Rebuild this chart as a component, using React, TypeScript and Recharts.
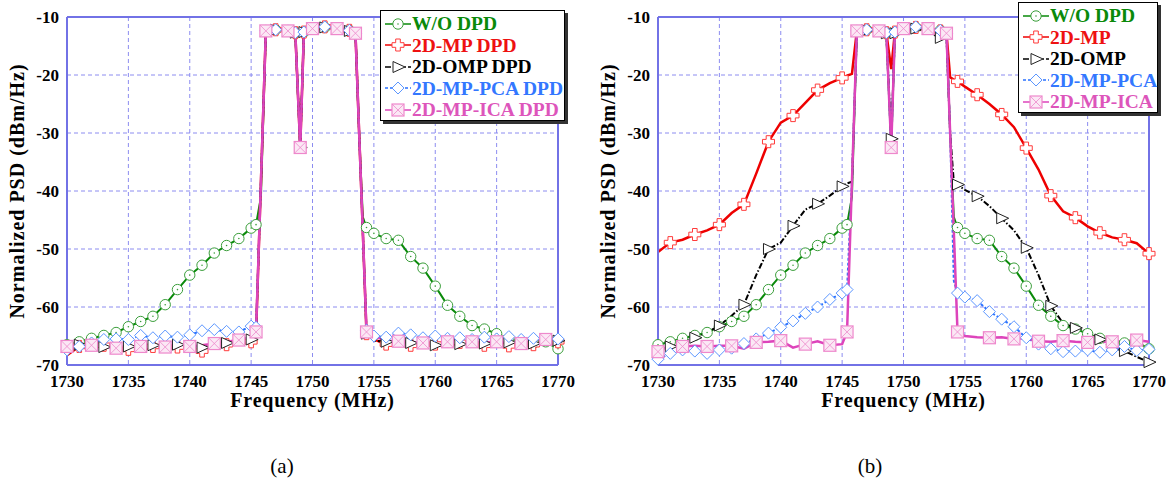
import { LineChart, Line, XAxis, YAxis, CartesianGrid, ReferenceLine } from 'recharts'

const FONT = 'Liberation Serif, Tinos, Nimbus Roman, DejaVu Serif, serif'

// frequency grid (MHz): 1 MHz skirts, finer steps on the channel edges and the notch
const FREQ = [
  1730, 1731, 1732, 1733, 1734, 1735, 1736, 1737, 1738, 1739, 1740, 1741, 1742, 1743, 1744, 1745,
  1745.4, 1745.8,
  1746.2, 1747, 1748, 1748.6, 1749, 1749.3, 1750, 1751, 1752, 1753, 1753.5,
  1753.8, 1754.1, 1754.4,
  1755, 1756, 1757, 1758, 1759, 1760, 1761, 1762, 1763, 1764, 1765, 1766, 1767, 1768, 1769, 1770,
]

const X_TICKS = [1730, 1735, 1740, 1745, 1750, 1755, 1760, 1765, 1770]
const Y_TICKS = [-70, -60, -50, -40, -30, -20, -10]

// PSD (dBm/Hz) without DPD, same measurement in both plots
const WO_DPD = [
  -66.5, -66.0, -65.4, -64.9, -64.4, -63.4, -62.5, -61.6, -59.6, -57.0, -54.5, -52.8, -50.7, -49.4, -48.2, -46.4,
  -45.8, -41.0,
  -12.4, -12.2, -12.4, -12.8, -32.5, -12.6, -12.0, -11.8, -12.0, -12.3, -12.8,
  -30.0, -44.5, -46.3,
  -47.3, -48.2, -48.5, -51.3, -53.3, -56.4, -59.7, -61.6, -63.2, -63.8, -64.6, -65.4, -66.0, -66.2, -66.0, -67.2,
]

// (a) with DPD
const MP_A = [
  -68.3, -66.8, -67.1, -66.6, -67.0, -67.3, -67.6, -66.8, -67.2, -66.9, -67.3, -67.6, -66.6, -66.5, -66.4, -66.0,
  -64.8, -38.4,
  -12.4, -12.2, -12.4, -12.7, -32.5, -12.6, -12.0, -11.7, -12.0, -12.3, -12.8,
  -30.0, -47.0, -64.6,
  -65.6, -66.4, -66.2, -66.6, -66.0, -66.4, -66.8, -66.1, -66.4, -66.6, -66.3, -66.7, -66.2, -66.5, -66.1, -66.0,
]
const OMP_A = [
  -67.5, -66.5, -66.8, -66.9, -66.5, -66.8, -67.2, -66.6, -66.9, -66.5, -67.0, -67.0, -66.3, -66.2, -66.5, -65.6,
  -64.6, -38.4,
  -12.5, -12.2, -12.4, -12.7, -32.5, -12.6, -12.1, -11.8, -12.1, -12.4, -12.8,
  -30.0, -47.0, -64.6,
  -65.8, -66.0, -66.4, -66.2, -66.3, -66.6, -66.2, -66.4, -66.0, -66.3, -66.5, -66.1, -66.0, -66.3, -66.0, -65.8,
]
const PCA_A = [
  -67.4, -66.8, -66.2, -65.6, -65.5, -65.6, -64.9, -65.3, -65.0, -65.2, -64.8, -64.1, -63.9, -64.2, -64.3, -63.3,
  -63.5, -38.4,
  -12.4, -12.2, -12.4, -12.7, -32.5, -12.6, -12.0, -11.7, -12.0, -12.3, -12.8,
  -30.0, -47.0, -64.0,
  -65.0, -65.2, -64.5, -64.8, -65.3, -65.0, -65.4, -65.3, -65.6, -65.2, -65.5, -65.1, -65.6, -65.4, -65.7, -65.5,
]
const ICA_A = [
  -66.8, -66.5, -66.6, -66.8, -67.1, -67.0, -66.8, -67.0, -66.9, -66.9, -66.8, -66.6, -66.3, -66.0, -65.7, -65.2,
  -64.3, -38.4,
  -12.4, -12.2, -12.4, -12.7, -32.5, -12.6, -12.0, -11.7, -12.0, -12.3, -12.8,
  -30.0, -47.0, -64.3,
  -65.0, -65.8, -65.9, -66.0, -66.2, -66.3, -66.0, -65.8, -66.0, -66.1, -66.0, -66.2, -66.3, -66.0, -65.6, -65.8,
]

// (b) with DPD
const MP_B = [
  -50.5, -48.9, -48.4, -47.5, -46.8, -45.8, -43.8, -42.3, -37.0, -31.5, -28.2, -27.0, -24.8, -22.6, -21.4, -20.5,
  -20.1, -19.8,
  -12.4, -12.2, -12.4, -12.7, -19.0, -12.6, -12.0, -11.8, -12.1, -12.4, -12.8,
  -20.4, -20.8, -21.1,
  -22.0, -23.4, -25.0, -26.8, -29.0, -32.6, -36.3, -40.8, -43.5, -44.6, -46.1, -47.2, -48.0, -48.4, -49.0, -50.8,
]
const OMP_B = [
  -67.5, -66.8, -66.0, -65.3, -64.4, -63.2, -61.5, -59.6, -54.5, -50.0, -48.9, -46.0, -43.2, -42.2, -40.8, -39.2,
  -38.7, -38.4,
  -12.5, -12.3, -12.5, -12.8, -31.0, -12.8, -12.2, -12.0, -12.6, -13.6, -13.3,
  -30.0, -38.5, -38.9,
  -39.8, -40.9, -42.6, -44.7, -46.8, -49.8, -54.5, -59.8, -62.8, -63.6, -64.2, -65.6, -67.0, -67.6, -68.6, -69.5,
]
const PCA_B = [
  -69.0, -68.0, -67.4, -67.6, -68.0, -67.4, -67.1, -66.3, -65.5, -64.5, -63.5, -62.4, -61.1, -60.0, -58.7, -57.6,
  -57.0, -38.4,
  -12.4, -12.2, -12.4, -12.7, -32.5, -12.6, -12.0, -11.7, -12.0, -12.3, -12.8,
  -30.0, -55.5, -57.6,
  -58.3, -58.9, -60.8, -62.1, -63.4, -65.3, -66.4, -67.2, -67.7, -67.6, -67.4, -67.8, -67.4, -66.8, -67.5, -67.3,
]
const ICA_B = [
  -67.7, -66.6, -66.8, -66.7, -66.8, -66.7, -66.7, -67.2, -66.1, -66.0, -65.8, -67.0, -66.4, -65.9, -66.6, -66.4,
  -64.3, -38.4,
  -12.4, -12.2, -12.4, -12.7, -32.5, -12.6, -12.0, -11.7, -12.0, -12.3, -12.8,
  -30.0, -47.0, -64.3,
  -65.0, -65.2, -65.3, -65.2, -65.5, -65.4, -65.9, -66.0, -65.8, -66.0, -66.1, -66.0, -66.0, -65.9, -65.7, -66.0,
]

const NAMES_A = ['W/O DPD', '2D-MP DPD', '2D-OMP DPD', '2D-MP-PCA DPD', '2D-MP-ICA DPD']
const NAMES_B = ['W/O DPD', '2D-MP', '2D-OMP', '2D-MP-PCA', '2D-MP-ICA']

const rowsA = FREQ.map((f, i) => ({ f, wo: WO_DPD[i], mp: MP_A[i], omp: OMP_A[i], pca: PCA_A[i], ica: ICA_A[i] }))
const rowsB = FREQ.map((f, i) => ({ f, wo: WO_DPD[i], mp: MP_B[i], omp: OMP_B[i], pca: PCA_B[i], ica: ICA_B[i] }))

type Shape = 'circle' | 'cross' | 'triangle' | 'diamond' | 'square'

interface SeriesStyle {
  key: string
  color: string
  text: string
  mark: string
  shape: Shape
  width: number
  dash?: string
  step: number
  offset: number
  extra?: number[]
  skip?: number[]
}

const STYLES: SeriesStyle[] = [
  { key: 'wo', color: '#0a8a0a', text: '#0a8a0a', mark: '#3a9e3a', shape: 'circle', width: 2, step: 1, offset: 0 },
  { key: 'mp', color: '#ee0000', text: '#ee1111', mark: '#ff3b3b', shape: 'cross', width: 2.5, step: 2, offset: 1 },
  { key: 'omp', color: '#000000', text: '#000000', mark: '#222222', shape: 'triangle', width: 2, dash: '6 2 1.5 2', step: 2, offset: 1, extra: [22] },
  { key: 'pca', color: '#2a72ff', text: '#3377ff', mark: '#5b96ff', shape: 'diamond', width: 2, dash: '3 2', step: 1, offset: 0 },
  { key: 'ica', color: '#dd44bb', text: '#dd55bb', mark: '#ee88cc', shape: 'square', width: 2.5, step: 2, offset: 0, extra: [22, 31], skip: [32] },
]

// points in the middle of the steep channel edges get no marker
const EDGE_MID = [17, 29, 30]
const NOTCH = 22

const showMark = (s: SeriesStyle, i: number) => {
  if (s.extra?.includes(i)) return true
  if (s.skip?.includes(i) || EDGE_MID.includes(i) || i === NOTCH) return false
  return i % s.step === s.offset
}

function Marker({ shape, x, y, color }: { shape: Shape; x: number; y: number; color: string }) {
  switch (shape) {
    case 'circle':
      return (
        <g>
          <circle cx={x} cy={y} r={5.2} fill="#fff" stroke={color} strokeWidth={1} />
          <circle cx={x} cy={y} r={0.8} fill={color} />
        </g>
      )
    case 'cross': {
      const a = 2.3
      const s = 6
      const d = `M${x - a},${y - s}H${x + a}V${y - a}H${x + s}V${y + a}H${x + a}V${y + s}H${x - a}V${y + a}H${x - s}V${y - a}H${x - a}Z`
      return <path d={d} fill="#fff" stroke={color} strokeWidth={1} />
    }
    case 'triangle':
      return <path d={`M${x - 5},${y - 5.5}L${x + 7},${y}L${x - 5},${y + 5.5}Z`} fill="#fff" stroke={color} strokeWidth={1} />
    case 'diamond':
      return <path d={`M${x},${y - 6}L${x + 6},${y}L${x},${y + 6}L${x - 6},${y}Z`} fill="#fff" stroke={color} strokeWidth={1} />
    case 'square':
      return (
        <g>
          <rect x={x - 6} y={y - 6} width={12} height={12} fill="#fbe8f5" stroke={color} strokeWidth={1.2} />
          <path d={`M${x - 6},${y - 6}L${x + 6},${y + 6}M${x + 6},${y - 6}L${x - 6},${y + 6}`} stroke={color} strokeWidth={0.8} />
        </g>
      )
  }
}

const renderDot = (s: SeriesStyle) => (props: any) => {
  const { cx, cy, index } = props
  const k = `${s.key}-${index}`
  if (cx == null || cy == null || !showMark(s, index)) return <g key={k} />
  return (
    <g key={k}>
      <Marker shape={s.shape} x={cx} y={cy} color={s.mark} />
    </g>
  )
}

const AXIS = '#7272e6'
const tickStyle = { fill: '#000', fontSize: 17, fontWeight: 700, fontFamily: FONT }

interface PanelProps {
  rows: any[]
  names: string[]
  caption: string
  legend: { left: number; top: number; width: number }
  captionX: number
}

function PsdPanel({ rows, names, caption, legend, captionX }: PanelProps) {
  return (
    <div style={{ position: 'relative', width: 580, height: 481, fontFamily: FONT }}>
      <LineChart width={580} height={400} data={rows} margin={{ top: 17, right: 22, bottom: 5, left: 17 }}>
        <CartesianGrid stroke="#8c8cf0" strokeDasharray="4 3" strokeWidth={1} />
        <XAxis
          dataKey="f"
          type="number"
          domain={[1730, 1770]}
          ticks={X_TICKS}
          height={30}
          tickLine={false}
          tickSize={6}
          tickMargin={4}
          axisLine={{ stroke: AXIS, strokeWidth: 2 }}
          tick={tickStyle}
        />
        <YAxis
          type="number"
          domain={[-70, -10]}
          ticks={Y_TICKS}
          width={50}
          tickLine={false}
          tickSize={6}
          tickMargin={2}
          axisLine={{ stroke: AXIS, strokeWidth: 2 }}
          tick={tickStyle}
        />
        <ReferenceLine y={-10} stroke={AXIS} strokeWidth={2} />
        <ReferenceLine x={1770} stroke={AXIS} strokeWidth={2} />
        {STYLES.map((s) => (
          <Line
            key={s.key}
            type="linear"
            dataKey={s.key}
            stroke={s.color}
            strokeWidth={s.width}
            strokeDasharray={s.dash}
            dot={renderDot(s)}
            activeDot={false}
            isAnimationActive={false}
          />
        ))}
      </LineChart>

      {/* axis titles */}
      <div
        style={{
          position: 'absolute', left: 67, width: 491, top: 390, textAlign: 'center',
          fontSize: 20, lineHeight: '20px', fontWeight: 700, letterSpacing: 0.8,
        }}
      >
        Frequency (MHz)
      </div>
      <div
        style={{
          position: 'absolute', left: 17 - 150, top: 191 - 12, width: 300, height: 24, textAlign: 'center',
          fontSize: 20, lineHeight: '24px', fontWeight: 700, letterSpacing: 1, transform: 'rotate(-90deg)',
          whiteSpace: 'nowrap',
        }}
      >
        Normalized PSD (dBm/Hz)
      </div>
      <div
        style={{
          position: 'absolute', left: captionX - 40, width: 80, top: 454, textAlign: 'center',
          fontSize: 21, lineHeight: '24px',
        }}
      >
        {caption}
      </div>

      {/* legend */}
      <div
        style={{
          position: 'absolute', left: legend.left, top: legend.top, width: legend.width, height: 111,
          background: '#fff', border: '1px solid #000', boxShadow: '3px 3px 0 #333', paddingTop: 2,
          boxSizing: 'border-box',
        }}
      >
        {STYLES.map((s, i) => (
          <div key={s.key} style={{ display: 'flex', alignItems: 'center', height: 21.5 }}>
            <svg width={26} height={14} style={{ marginLeft: 4, flex: 'none' }}>
              <line x1={0} y1={7} x2={26} y2={7} stroke={s.color} strokeWidth={1.5} strokeDasharray={s.dash} />
              <Marker shape={s.shape} x={13} y={7} color={s.mark} />
            </svg>
            <span
              style={{
                marginLeft: 1, fontSize: 19.5, lineHeight: 1, fontWeight: 700, color: s.text, whiteSpace: 'nowrap',
              }}
            >
              {names[i]}
            </span>
          </div>
        ))}
      </div>
    </div>
  )
}

export default function App() {
  return (
    <div style={{ position: 'absolute', left: 0, top: 0, width: 1175, height: 481, background: '#fff', overflow: 'hidden', fontFamily: FONT }}>
      <div style={{ position: 'absolute', left: 0, top: 0 }}>
        <PsdPanel rows={rowsA} names={NAMES_A} caption="(a)" captionX={282} legend={{ left: 380, top: 10, width: 185 }} />
      </div>
      <div style={{ position: 'absolute', left: 591, top: 0 }}>
        <PsdPanel rows={rowsB} names={NAMES_B} caption="(b)" captionX={279} legend={{ left: 427, top: 2, width: 140 }} />
      </div>
    </div>
  )
}
